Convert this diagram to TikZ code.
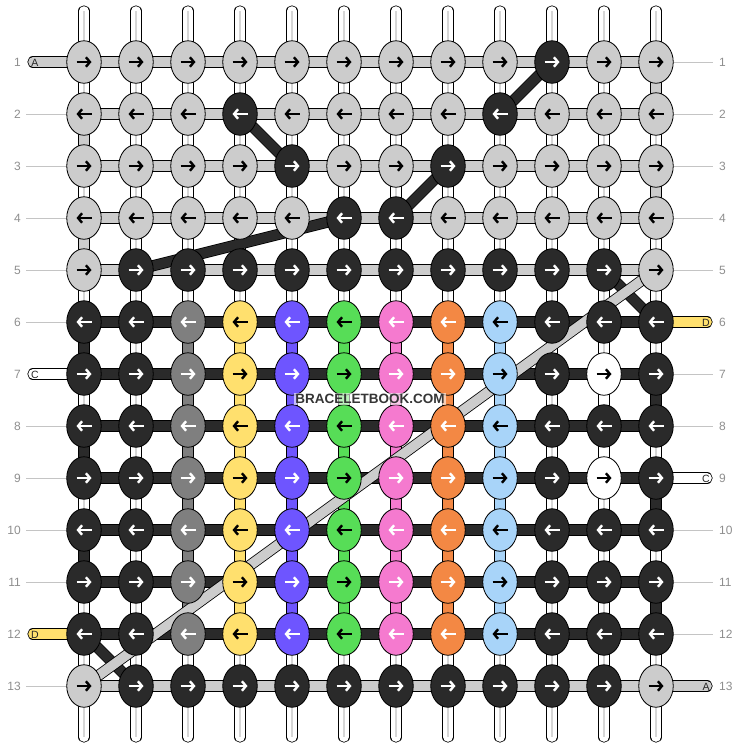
\documentclass[tikz,border=0pt]{standalone}
\usepackage{fontspec}
\setmainfont{Liberation Sans}
\usepackage{tikz}
\usetikzlibrary{arrows.meta,shapes.geometric}
% knot fills
\definecolor{kn-g}{HTML}{CCCCCC}
\definecolor{kn-k}{HTML}{2A2A2A}
\definecolor{kn-m}{HTML}{7F7F7F}
\definecolor{kn-y}{HTML}{FFE06E}
\definecolor{kn-p}{HTML}{6E55FF}
\definecolor{kn-n}{HTML}{57DD57}
\definecolor{kn-i}{HTML}{F57ACF}
\definecolor{kn-o}{HTML}{F38844}
\definecolor{kn-b}{HTML}{A8D4F9}
\definecolor{kn-w}{HTML}{FFFFFF}
% arrow colour on each fill
\colorlet{ar-g}{black}\colorlet{ar-k}{white}\colorlet{ar-m}{white}
\colorlet{ar-y}{black}\colorlet{ar-p}{white}\colorlet{ar-n}{black}
\colorlet{ar-i}{white}\colorlet{ar-o}{white}\colorlet{ar-b}{black}
\colorlet{ar-w}{black}
\definecolor{numgray}{HTML}{8E8E8E}
\definecolor{rulegray}{HTML}{C4C4C4}
\definecolor{midgray}{HTML}{D6D6D6}
\definecolor{wmark}{HTML}{353535}
\tikzset{fig/.style={x=1pt,y=-1pt,line join=round},
  knot/.style={ellipse,draw=black,line width=0.8pt,minimum width=34.5pt,minimum height=42.5pt,inner sep=0pt},
  band/.style={draw=black,line width=0.8pt,double=#1,double distance=9.6pt},
  basestr/.style={band=white},
  midline/.style={midgray,line width=1.1pt},
  knarrow/.style={line width=2.4pt,-{Straight Barb[length=4pt,width=9.5pt]}},
  rowno/.style={numgray,inner sep=0pt,font=\fontsize{12}{12}\selectfont},
  stubtxt/.style={inner sep=0pt,text=black!85,font=\fontsize{10.5}{10.5}\selectfont},
  labrule/.style={rulegray,line width=0.8pt}}

\begin{document}
\begin{tikzpicture}[fig]
  \useasboundingbox (0,0) rectangle (740,748);
  % grid of knot positions
  \foreach \r in {1,...,13}
    \foreach \c in {1,...,12}
      \coordinate (p-\r-\c) at ({32+52*\c},{10+52*\r});
  % base strings in and out
  \foreach \c in {1,...,12}{
    \coordinate (t-\c) at ({32+52*\c},11);
    \coordinate (b-\c) at ({32+52*\c},737);
    \draw[basestr,line cap=round] (t-\c) -- (p-1-\c);
    \draw[midline] (t-\c) -- (p-1-\c);
    \draw[basestr,line cap=round] (p-13-\c) -- (b-\c);
    \draw[midline] (p-13-\c) -- (b-\c);
  }
  \foreach \r [count=\s from 2] in {1,...,12}
    \foreach \c in {1,...,12}{
      \draw[basestr] (p-\r-\c) -- (p-\s-\c);
      \draw[midline] (p-\r-\c) -- (p-\s-\c);
    }
  % knotting string turning at the edges
  \foreach \r/\c/\col in {1/12/g,2/1/g,3/12/g,4/1/g,6/1/k,7/12/k,8/1/k,9/12/k,10/1/k,11/12/k,7/11/w,8/11/w}{
    \pgfmathtruncatemacro\s{\r+1}
    \draw[band=kn-\col] (p-\r-\c) -- (p-\s-\c);
  }
  % coloured columns
  \foreach \c/\col in {3/m,4/y,5/p,6/n,7/i,8/o,9/b}
    \foreach \r [count=\s from 7] in {6,...,11}
      \draw[band=kn-\col] (p-\r-\c) -- (p-\s-\c);
  % rows
  \foreach \r/\col in {1/g,2/g,3/g,4/g,5/g,6/k,7/k,8/k,9/k,10/k,11/k,12/k,13/g}
    \foreach \c [count=\d from 2] in {1,...,11}
      \draw[band=kn-\col] (p-\r-\c) -- (p-\r-\d);
  % loose ends with letters
  \foreach \r/\col/\t in {1/g/A,7/w/C,12/y/D}{
    \coordinate (sl-\r) at (33,{10+52*\r});
    \draw[band=kn-\col,line cap=round] (sl-\r) -- (p-\r-1);
    \node[stubtxt] (tl-\r) at (35,{10.5+52*\r}) {\t};
  }
  \foreach \r/\col/\t in {6/y/D,9/w/C,13/g/A}{
    \coordinate (sr-\r) at (707,{10+52*\r});
    \draw[band=kn-\col,line cap=round] (p-\r-12) -- (sr-\r);
    \node[stubtxt] (tr-\r) at (706,{10.5+52*\r}) {\t};
  }
  % row numbers
  \foreach \r in {2,3,4,5,6,8,9,10,11,13}{
    \coordinate (ll-\r) at (26,{10+52*\r});
    \draw[labrule] (ll-\r) -- (p-\r-1);
  }
  \foreach \r in {1,2,3,4,5,7,8,10,11,12}{
    \coordinate (rl-\r) at (713,{10+52*\r});
    \draw[labrule] (p-\r-12) -- (rl-\r);
  }
  \foreach \r in {1,...,13}{
    \node[rowno,anchor=east] (nl-\r) at (21,{10+52*\r}) {\r};
    \node[rowno,anchor=west] (nr-\r) at (719,{10+52*\r}) {\r};
  }
  % diagonal runs of the dark and the grey string
  \foreach \a/\b in {1-10/2-9,2-4/3-5,3-8/4-7,4-6/5-2,5-11/6-12,12-1/13-2}
    \draw[band=kn-k] (p-\a) -- (p-\b);
  \draw[band=kn-g] (p-5-12) -- (p-13-1);
  % knots
  \foreach \r/\row in {1/{g,g,g,g,g,g,g,g,g,k,g,g},2/{g,g,g,k,g,g,g,g,k,g,g,g},
      3/{g,g,g,g,k,g,g,k,g,g,g,g},4/{g,g,g,g,g,k,k,g,g,g,g,g},
      5/{g,k,k,k,k,k,k,k,k,k,k,g},6/{k,k,m,y,p,n,i,o,b,k,k,k},
      7/{k,k,m,y,p,n,i,o,b,k,w,k},8/{k,k,m,y,p,n,i,o,b,k,k,k},
      9/{k,k,m,y,p,n,i,o,b,k,w,k},10/{k,k,m,y,p,n,i,o,b,k,k,k},
      11/{k,k,m,y,p,n,i,o,b,k,k,k},12/{k,k,m,y,p,n,i,o,b,k,k,k},
      13/{g,k,k,k,k,k,k,k,k,k,k,g}}{
    \pgfmathtruncatemacro\dir{ifthenelse(mod(\r,2)==1,1,-1)}
    \foreach \col [count=\c] in \row{
      \node[knot,fill=kn-\col] (k-\r-\c) at (p-\r-\c) {};
      \draw[knarrow,ar-\col] (k-\r-\c.center) ++({-7.5*\dir},0) -- ++({15*\dir},0);
    }
  }
  \node[fill=white,fill opacity=0.6,text opacity=1,inner sep=1.2pt,text=wmark,
    font=\bfseries\fontsize{13.5}{14}\selectfont] (wm) at (370,399) {BRACELETBOOK.COM};
\end{tikzpicture}
\end{document}
